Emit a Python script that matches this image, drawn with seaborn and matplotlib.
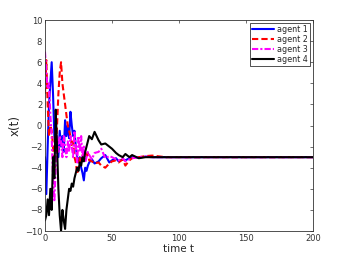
import matplotlib
matplotlib.use("Agg")
import matplotlib.pyplot as plt
import pandas as pd
import seaborn as sns

# sample times shared by all agents
TIME = [0, 1, 2, 3, 4, 5, 6, 7, 8, 9, 10, 11, 12, 13, 14, 15, 16, 17, 18, 19,
        20, 21, 22, 23, 24, 25, 26, 27, 28, 29, 30, 31, 32, 33, 35, 37, 40, 42,
        45, 48, 50, 53, 55, 58, 60, 63, 65, 70, 75, 80, 90, 200]
AGENT1 = [-3, -6.5, -2, 2, 4, 6, 3, -1, -2.5, -1.5, -3, -0.5, -2, -1, -2.5, 0.5,
          -1, 0, -1.2, 1.3, 0, -1, -0.5, -2, -3, -3.5, -3, -4, -4.5, -5.2, -4,
          -4.3, -3.8, -3.5, -3.2, -3.6, -3.4, -3.1, -2.8, -3.5, -3.3, -3.1, -3.4,
          -3.2, -3.3, -3.1, -3.0, -3.05, -2.95, -3, -3, -3]
AGENT2 = [3, 6.2, 2, -1, 0, -0.5, -2, -4, -3, 0, 3, 5, 6, 4, 3, 2, 1, 0, -0.5,
          -1, -2, -1.5, -3, -3.5, -4.6, -4, -3, -3.5, -2.8, -3.2, -2.5, -3, -2.6,
          -3.3, -3.4, -3.6, -3.5, -3.8, -4, -3.6, -3.4, -3.3, -3.5, -3.2, -3.8,
          -3.3, -3.1, -3.0, -2.9, -2.85, -3, -3]
AGENT3 = [7, 5, 3.5, 4, 1, -1, -5, -7.2, -4, -1, -2.5, -1, -1.5, -3, -1, -2, -3,
          -1.5, -2.5, -1, -2, -3, -0.5, -2, -3.5, -1, -2.5, -1, -3, -2, -3.5, -3,
          -2.5, -2.8, -3.2, -2.6, -2.5, -2.2, -3.1, -2.9, -3.0, -3.2, -3.3, -3.1,
          -3.4, -3.2, -3.1, -3, -2.95, -3, -3, -3]
AGENT4 = [-9, -8.5, -7, -8.5, -6, -8, -3, -5, 1.5, -2, -6, -8.5, -10, -8, -9,
          -9.8, -8, -7, -6, -6.2, -5.5, -5.8, -5, -4.5, -4, -4.3, -3.5, -3.8, -3,
          -3.4, -2.5, -2, -1.5, -1, -1.3, -0.6, -1.4, -1.8, -1.7, -2.0, -2.2, -2.6,
          -2.8, -3.0, -2.7, -3.0, -2.8, -3.1, -3.0, -3, -3, -3]
AGENTS = ["agent 1", "agent 2", "agent 3", "agent 4"]
COLORS = ["#0000ff", "#ff0000", "#ff00ff", "#000000"]
DASHES = ["", (3, 1.5), (3, 1, 1, 1), ""]

frames = []
for name, values in zip(AGENTS, [AGENT1, AGENT2, AGENT3, AGENT4]):
    frames.append(pd.DataFrame({"t": TIME, "x": values, "agent": name}))
data = pd.concat(frames, ignore_index=True)

sns.set_style("white")
plt.rcParams["font.family"] = ["DejaVu Sans"]

fig = plt.figure(figsize=(3.46, 2.6), dpi=100)
ax = fig.add_axes([0.130, 0.1115, 0.7746, 0.8115])
sns.lineplot(data=data, x="t", y="x", hue="agent", style="agent",
             palette=dict(zip(AGENTS, COLORS)), dashes=dict(zip(AGENTS, DASHES)),
             estimator=None, sort=False, linewidth=1.5, ax=ax)

ax.set_xlim(0, 200)
ax.set_ylim(-10, 10)
ax.set_xticks([0, 50, 100, 150, 200])
ax.set_yticks(range(-10, 11, 2))
ax.tick_params(direction="in", length=2.5, width=0.5, labelsize=6, pad=2,
               top=True, right=True, colors="#333333")
for spine in ax.spines.values():
    spine.set_linewidth(0.6)
    spine.set_color("#333333")
ax.set_xlabel("time t", fontsize=7.5, labelpad=1)
ax.set_ylabel("x(t)", fontsize=8.5, labelpad=2)

leg = ax.legend(loc="upper right", fontsize=5.8, frameon=True, fancybox=False,
                borderaxespad=0.4, handlelength=2.8, labelspacing=0.12,
                borderpad=0.25, handletextpad=0.3)
leg.get_frame().set_edgecolor("black")
leg.get_frame().set_linewidth(0.6)

fig.savefig("out.png", dpi=100)
